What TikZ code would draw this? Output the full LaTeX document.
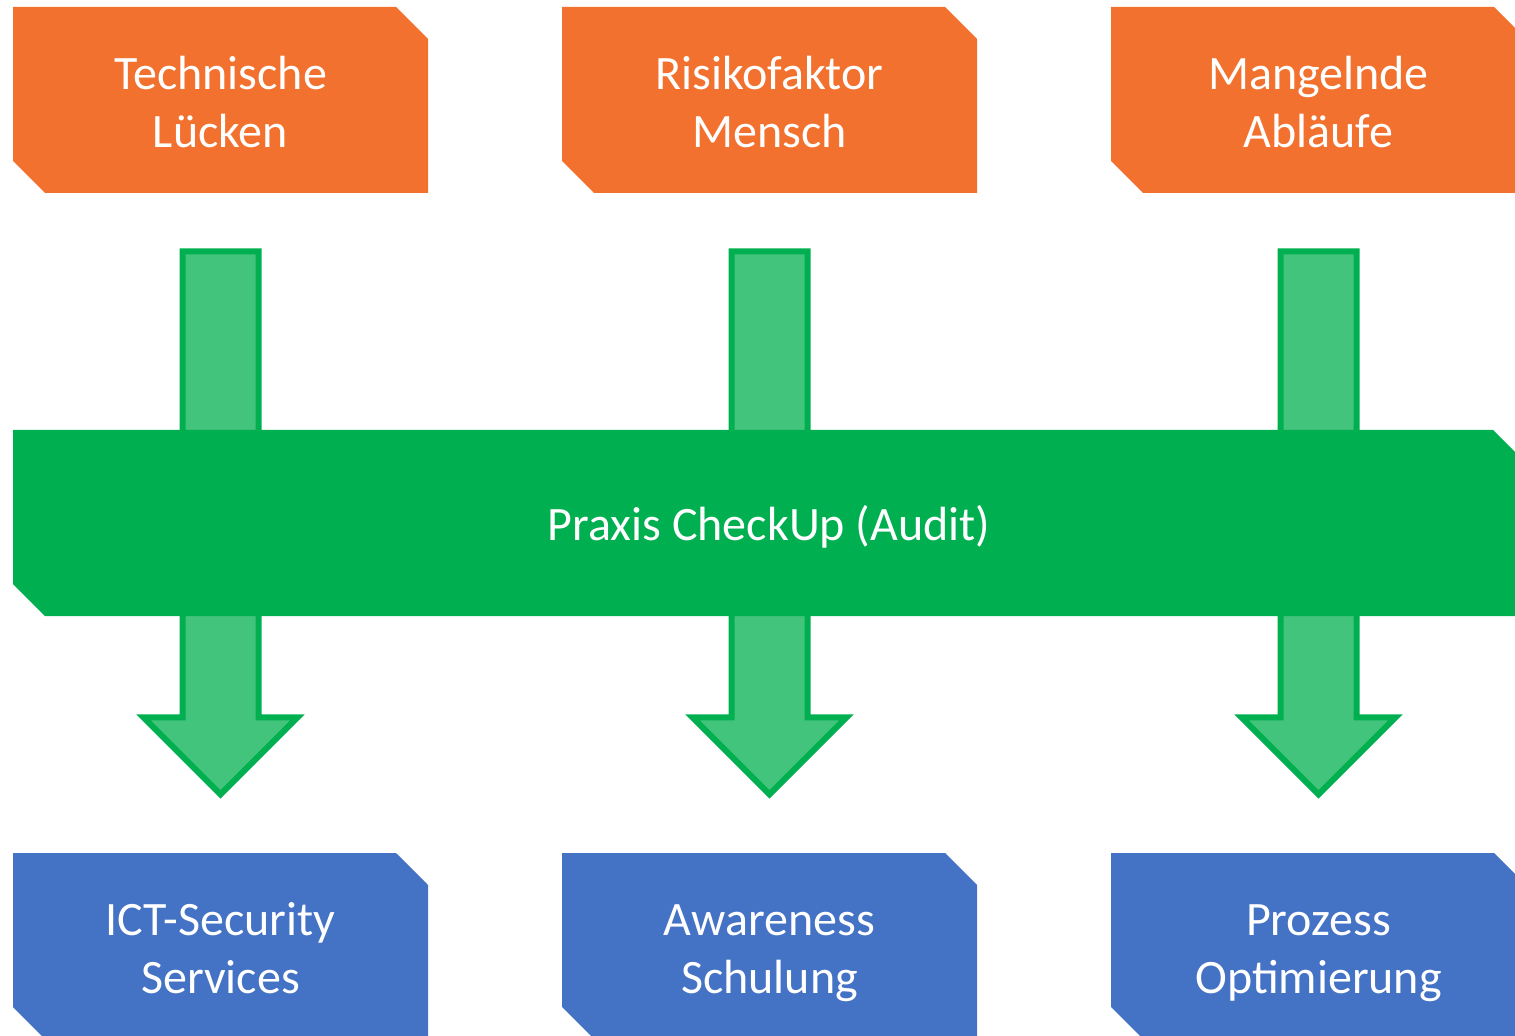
\documentclass[tikz,border=0pt]{standalone}
\usepackage{fontspec}
\setmainfont{Carlito}
\usetikzlibrary{shapes.misc, shapes.arrows, positioning}
\definecolor{riskorange}{HTML}{F2712E}
\definecolor{fixblue}{HTML}{4472C4}
\definecolor{auditgreen}{HTML}{00B050}
\definecolor{flowgreen}{HTML}{43C47C}

\begin{document}
\begin{tikzpicture}[x=0.5pt, y=0.5pt, on grid,
  plate/.style = {chamfered rectangle, chamfered rectangle corners={north east, south west},
    chamfered rectangle sep=8pt, minimum width=207.5pt, minimum height=93pt,
    inner sep=0, text=white, align=center, font=\fontsize{24}{29}\selectfont},
  box/.style = {plate, execute at begin node=\rule{0pt}{53pt},
    execute at end node=\rule[-5.7pt]{0pt}{5.7pt}},
  norange/.style = {box, fill=riskorange},
  nblue/.style = {box, fill=fixblue},
  bar/.style = {plate, fill=auditgreen, minimum width=756pt,
    execute at begin node=\rule{0pt}{23.3pt},
    execute at end node=\rule[-5.7pt]{0pt}{5.7pt}},
  flow/.style = {single arrow, shape border rotate=270, fill=flowgreen, draw=auditgreen,
    line width=3pt, minimum height=271.5pt, minimum width=70pt,
    single arrow head extend=19.5pt, single arrow head indent=0pt,
    inner sep=17.5pt},
  ]
  \useasboundingbox (0,0) rectangle (1515,1035);
  \node[norange] (tech) at (220.5,935) {Technische\\Lücken};
  \node[norange, right = 274.5pt of tech] (human) {Risikofaktor\\Mensch};
  \node[norange, right = 274.5pt of human] (proc) {Mangelnde\\Abläufe};
  \node[nblue, below = 423pt of tech] (ict) {ICT-Security\\Services};
  \node[nblue, below = 423pt of human] (aware) {Awareness\\Schulung};
  \node[nblue, below = 423pt of proc] (optim) {Prozess\\Optimierung};

  \node[flow, below = 27.5pt of tech.south, anchor=tail] (flow1) {};
  \node[flow, below = 27.5pt of human.south, anchor=tail] (flow2) {};
  \node[flow, below = 27.5pt of proc.south, anchor=tail] (flow3) {};

  \node[bar] (audit) at (769,512) {Praxis CheckUp (Audit)};
\end{tikzpicture}
\end{document}
